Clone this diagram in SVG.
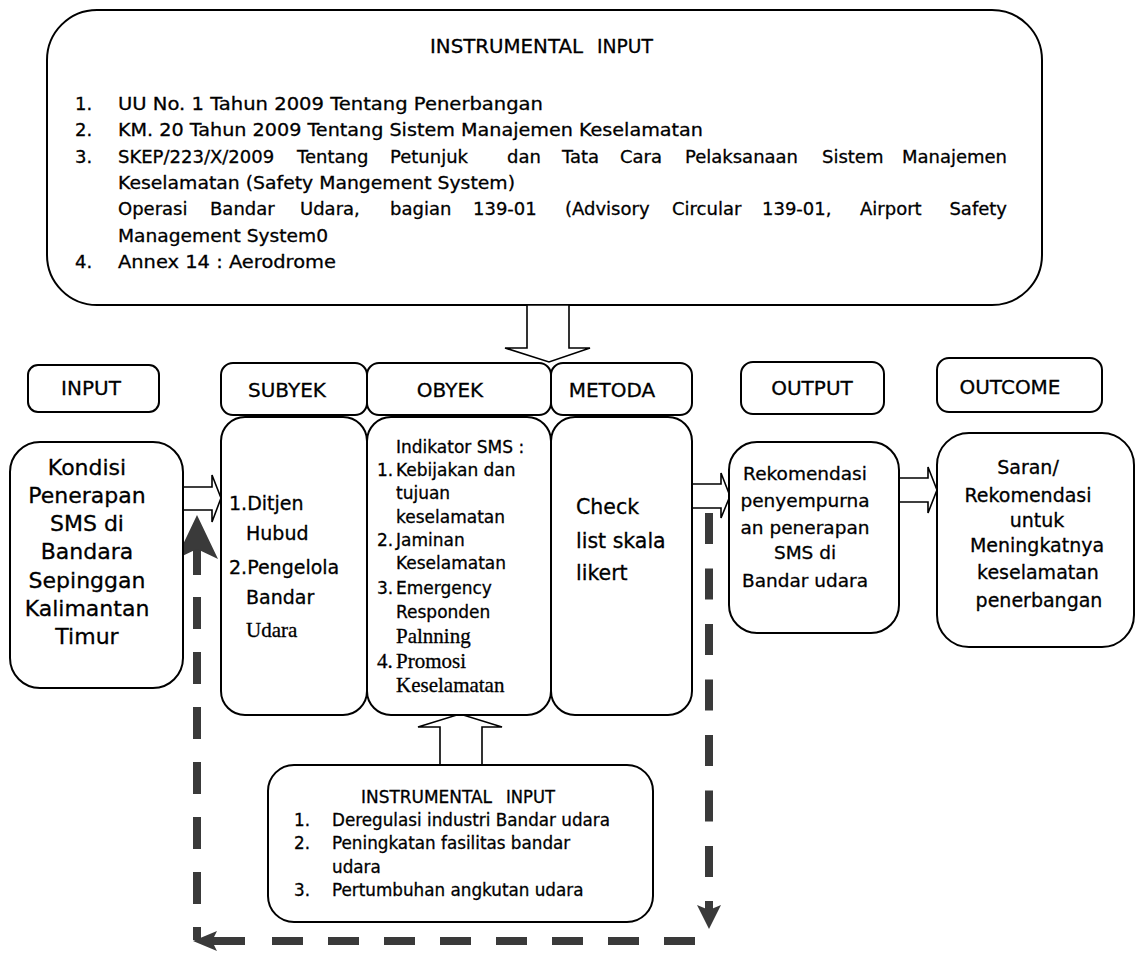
<svg xmlns="http://www.w3.org/2000/svg" width="1136" height="953" viewBox="0 0 1136 953">
<style>
.box{fill:#fff;stroke:#000;stroke-width:2}
.arr{fill:#fff;stroke:#000;stroke-width:1.6;stroke-linejoin:miter}
.t{font-family:"DejaVu Sans",sans-serif;fill:#000;stroke:#000;stroke-width:0.3}
.s{font-family:"Liberation Serif",serif;fill:#000;stroke:#000;stroke-width:0.3}
.h{font-size:20px;text-anchor:middle}
.dash{stroke:#3a3a3a;stroke-width:8;fill:none}
.head{fill:#3a3a3a}
</style>
<rect width="1136" height="953" fill="#fff"/>

<g id="top-instrumental">
<rect class="box" x="47" y="10" width="995" height="295" rx="50"/>
<g class="t" font-size="18">
<text x="430" y="53" font-size="19.5" textLength="153" lengthAdjust="spacingAndGlyphs">INSTRUMENTAL</text><text x="597" y="53" font-size="19.5" textLength="56" lengthAdjust="spacingAndGlyphs">INPUT</text>
<text x="75" y="110">1.</text><text x="118" y="110" textLength="425" lengthAdjust="spacingAndGlyphs">UU No. 1 Tahun 2009 Tentang Penerbangan</text>
<text x="75" y="136">2.</text><text x="118" y="136" textLength="585" lengthAdjust="spacingAndGlyphs">KM. 20 Tahun 2009 Tentang Sistem Manajemen Keselamatan</text>
<text x="75" y="163">3.</text>
<text y="163"><tspan x="118">SKEP/223/X/2009</tspan><tspan x="297">Tentang</tspan><tspan x="390">Petunjuk</tspan><tspan x="507">dan</tspan><tspan x="562">Tata</tspan><tspan x="620">Cara</tspan><tspan x="685">Pelaksanaan</tspan><tspan x="822">Sistem</tspan></text>
<text x="1007" y="163" text-anchor="end">Manajemen</text>
<text x="118" y="189" textLength="397" lengthAdjust="spacingAndGlyphs">Keselamatan (Safety Mangement System)</text>
<text y="215"><tspan x="118">Operasi</tspan><tspan x="210">Bandar</tspan><tspan x="300">Udara,</tspan><tspan x="390">bagian</tspan><tspan x="473">139-01</tspan><tspan x="565">(Advisory</tspan><tspan x="672">Circular</tspan><tspan x="762">139-01,</tspan><tspan x="860">Airport</tspan></text>
<text x="1007" y="215" text-anchor="end">Safety</text>
<text x="118" y="242" textLength="210" lengthAdjust="spacingAndGlyphs">Management System0</text>
<text x="75" y="268">4.</text><text x="118" y="268" textLength="218" lengthAdjust="spacingAndGlyphs">Annex 14 : Aerodrome</text>
</g>
</g>

<g id="connectors">
<polygon class="arr" points="527,305 569,305 569,348 590,348 549,362 505,348 527,348"/>
<polygon class="arr" points="440,765 482,765 482,727 502,727 460,714 418,727 440,727"/>
<polygon class="arr" points="183,487 212,487 212,475 221,498 212,522 212,510 183,510"/>
<polygon class="arr" points="692,484 721,484 721,473 730,496 721,518 721,508 692,508"/>
<polygon class="arr" points="899,478 928,478 928,467 937,490 928,513 928,502 899,502"/>
<line class="dash" x1="197" y1="548" x2="197" y2="575"/>
<line class="dash" x1="197" y1="597" x2="197" y2="940" stroke-dasharray="32 23"/>
<path class="head" d="M197,515 L218,559 L197,549 L176,559 Z"/>
<line class="dash" x1="210" y1="941" x2="245" y2="941"/>
<line class="dash" x1="272" y1="941" x2="695" y2="941" stroke-dasharray="31 25"/>
<path class="head" d="M193,941 L217,931 L212,941 L217,951 Z"/>
<line class="dash" x1="709" y1="513" x2="709" y2="877" stroke-dasharray="31 24.5"/>
<line class="dash" x1="709" y1="901" x2="709" y2="912"/>
<path class="head" d="M709,929 L697,905 L709,910 L721,905 Z"/>
</g>

<g id="input-header">
<rect class="box" x="28" y="365" width="131" height="47" rx="10"/>
<text class="t h" x="91" y="395" font-size="19">INPUT</text>
</g>
<g id="subyek-header">
<rect class="box" x="221" y="363" width="146" height="52" rx="12"/>
<text class="t h" x="287" y="397">SUBYEK</text>
</g>
<g id="obyek-header">
<rect class="box" x="367" y="363" width="184" height="52" rx="12"/>
<text class="t h" x="450" y="397">OBYEK</text>
</g>
<g id="metoda-header">
<rect class="box" x="551" y="363" width="141" height="52" rx="12"/>
<text class="t h" x="612" y="397">METODA</text>
</g>
<g id="output-header">
<rect class="box" x="741" y="362" width="143" height="52" rx="12"/>
<text class="t h" x="812" y="395">OUTPUT</text>
</g>
<g id="outcome-header">
<rect class="box" x="937" y="358" width="165" height="54" rx="12"/>
<text class="t h" x="1010" y="394">OUTCOME</text>
</g>

<g id="kondisi">
<rect class="box" x="10" y="442" width="173" height="246" rx="30"/>
<g class="t" font-size="22" text-anchor="middle">
<text x="87" y="475">Kondisi</text>
<text x="87" y="503">Penerapan</text>
<text x="87" y="531">SMS di</text>
<text x="87" y="559">Bandara</text>
<text x="87" y="588">Sepinggan</text>
<text x="87" y="616">Kalimantan</text>
<text x="87" y="644">Timur</text>
</g>
</g>

<g id="subyek">
<rect class="box" x="221" y="417" width="146" height="298" rx="24"/>
<g class="t" font-size="19">
<text x="229" y="510">1.Ditjen</text>
<text x="246" y="540">Hubud</text>
<text x="229" y="574">2.Pengelola</text>
<text x="246" y="604">Bandar</text>
</g>
<text class="s" x="246" y="637" font-size="21">Udara</text>
</g>

<g id="obyek">
<rect class="box" x="367" y="417" width="184" height="298" rx="24"/>
<g class="t" font-size="17">
<text x="396" y="453">Indikator SMS :</text>
<text x="377" y="476">1.</text><text x="396" y="476">Kebijakan dan</text>
<text x="396" y="499">tujuan</text>
<text x="396" y="523">keselamatan</text>
<text x="377" y="546">2.</text><text x="396" y="546">Jaminan</text>
<text x="396" y="569">Keselamatan</text>
<text x="377" y="594">3.</text><text x="396" y="594">Emergency</text>
<text x="396" y="618">Responden</text>
</g>
<g class="s" font-size="21">
<text x="396" y="643">Palnning</text>
<text x="377" y="668">4.</text><text x="396" y="668">Promosi</text>
<text x="396" y="692">Keselamatan</text>
</g>
</g>

<g id="metoda">
<rect class="box" x="551" y="417" width="141" height="298" rx="24"/>
<g class="t" font-size="20.5">
<text x="576" y="514">Check</text>
<text x="576" y="548">list skala</text>
<text x="576" y="580">likert</text>
</g>
</g>

<g id="output">
<rect class="box" x="729" y="442" width="170" height="191" rx="28"/>
<g class="t" font-size="18.5" text-anchor="middle">
<text x="805" y="480">Rekomendasi</text>
<text x="805" y="507">penyempurna</text>
<text x="805" y="534">an penerapan</text>
<text x="805" y="559">SMS di</text>
<text x="805" y="587">Bandar udara</text>
</g>
</g>

<g id="outcome">
<rect class="box" x="937" y="433" width="197" height="214" rx="32"/>
<g class="t" font-size="19" text-anchor="middle">
<text x="1028" y="474">Saran/</text>
<text x="1028" y="502">Rekomendasi</text>
<text x="1037" y="527">untuk</text>
<text x="1037" y="552">Meningkatnya</text>
<text x="1038" y="579">keselamatan</text>
<text x="1039" y="607">penerbangan</text>
</g>
</g>

<g id="bottom-instrumental">
<rect class="box" x="268" y="765" width="385" height="157" rx="26"/>
<g class="t" font-size="16.8">
<text x="361" y="803" textLength="131" lengthAdjust="spacingAndGlyphs">INSTRUMENTAL</text><text x="506" y="803" textLength="49" lengthAdjust="spacingAndGlyphs">INPUT</text>
<text x="294" y="826">1.</text><text x="332" y="826" textLength="278" lengthAdjust="spacingAndGlyphs">Deregulasi industri Bandar udara</text>
<text x="294" y="849">2.</text><text x="332" y="849">Peningkatan fasilitas bandar</text>
<text x="332" y="873">udara</text>
<text x="294" y="896">3.</text><text x="332" y="896">Pertumbuhan angkutan udara</text>
</g>
</g>
</svg>
